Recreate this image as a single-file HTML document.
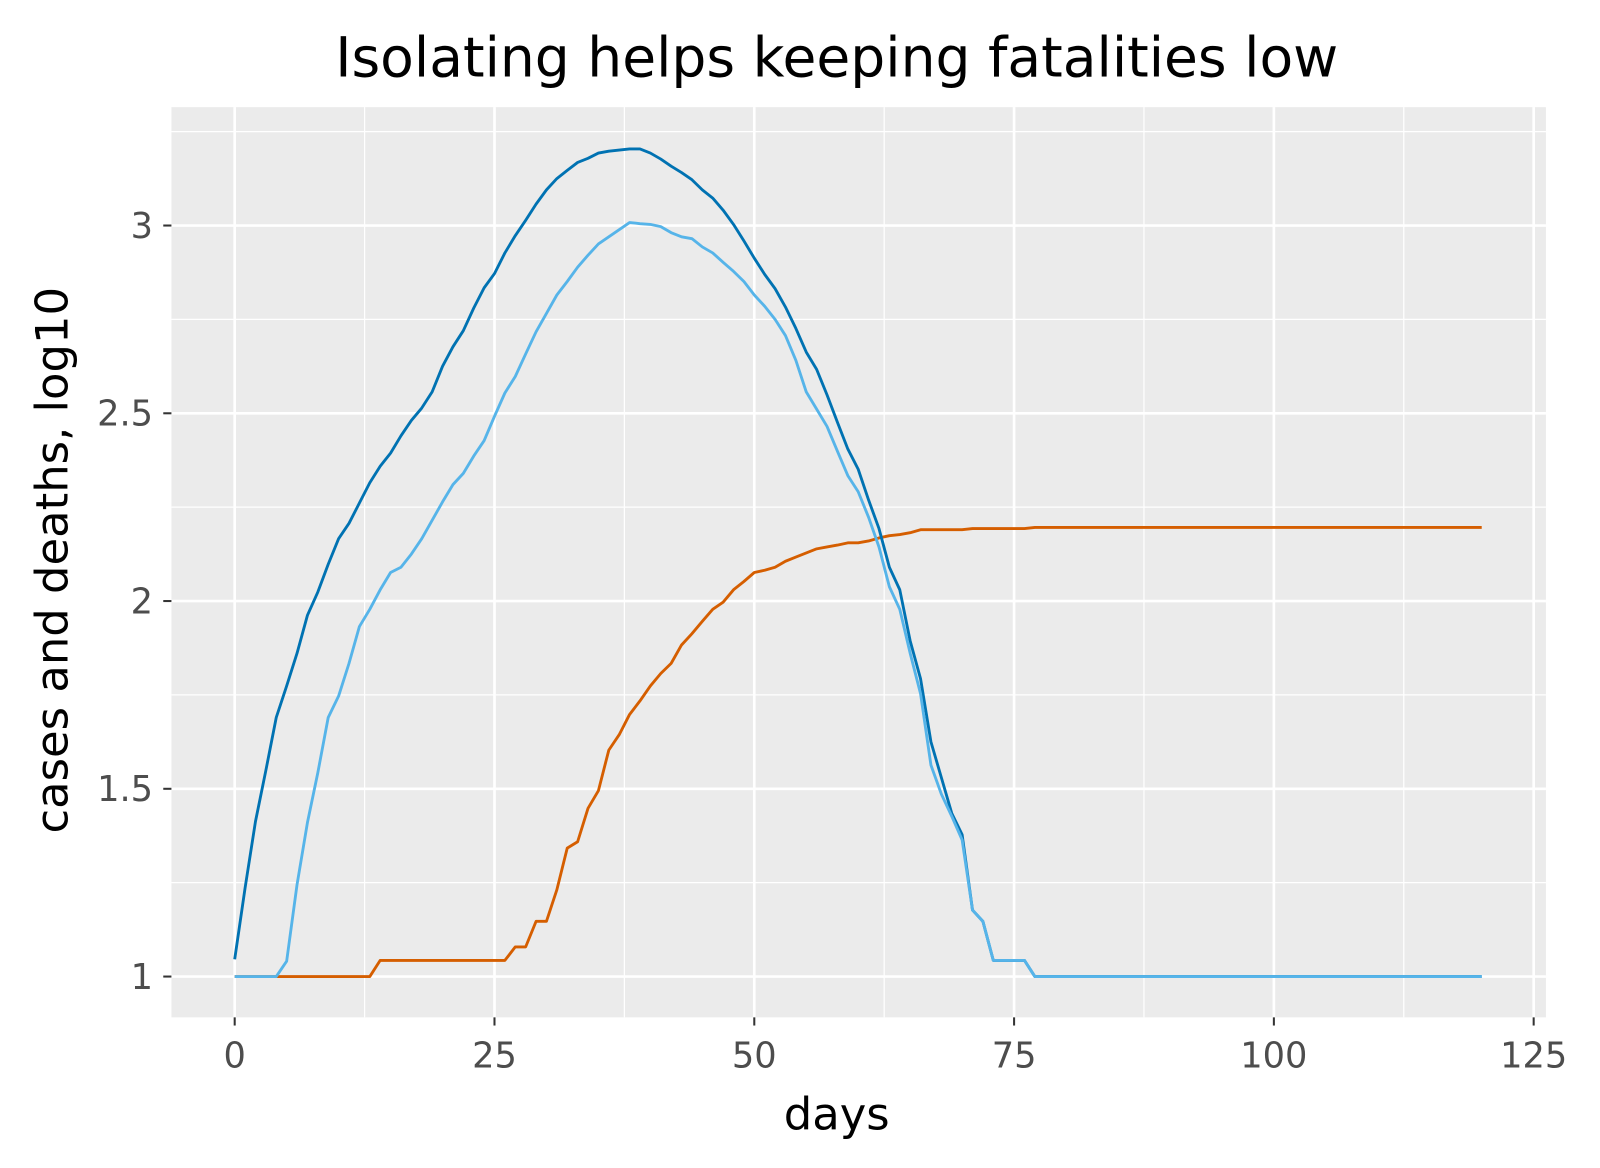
<!DOCTYPE html>
<html><head><meta charset="utf-8"><style>
html,body{margin:0;padding:0;background:#fff}
svg{display:block;font-family:"DejaVu Sans","Liberation Sans",sans-serif}
</style></head><body>
<svg id="chart" width="1600" height="1168" viewBox="0 0 1568 1144.6" xmlns="http://www.w3.org/2000/svg">
<rect width="1568" height="1145" fill="#fff"/>
<text x="820" y="75" font-size="54" text-anchor="middle" fill="#000">Isolating helps keeping fatalities low</text>
<rect x="168" y="105" width="1347" height="892" fill="#ebebeb"/>
<g id="grid"></g>
<g id="series"></g>
<g id="axes"></g>
<text x="820" y="1107" font-size="44" text-anchor="middle" fill="#000">days</text>
<text transform="translate(66,549) rotate(-90)" font-size="44" text-anchor="middle" fill="#000">cases and deaths, log10</text>
</svg>
<script>
const xTicks=[0,25,50,75,100,125];
const xTickLabels=["0","25","50","75","100","125"];
const yTicks=[1,1.5,2,2.5,3];
const yTickLabels=["1","1.5","2","2.5","3"];
const lastDay=120;
const casesTotal=[1.046,1.236,1.413,1.549,1.690,1.774,1.861,1.962,2.024,2.098,2.166,2.207,2.261,2.315,2.359,2.394,2.440,2.481,2.514,2.557,2.625,2.677,2.720,2.780,2.834,2.872,2.927,2.973,3.014,3.057,3.095,3.125,3.147,3.168,3.179,3.193,3.198,3.201,3.204,3.204,3.193,3.177,3.158,3.141,3.122,3.095,3.073,3.041,3.003,2.959,2.913,2.870,2.832,2.783,2.726,2.663,2.617,2.549,2.476,2.405,2.351,2.269,2.193,2.090,2.030,1.894,1.793,1.625,1.530,1.435,1.378,1.177,1.147,1.043,1.043,1.043,1.043,1,1,1,1,1,1,1,1,1,1,1,1,1,1,1,1,1,1,1,1,1,1,1,1,1,1,1,1,1,1,1,1,1,1,1,1,1,1,1,1,1,1,1,1,1,1,1,1];
const casesActive=[1,1,1,1,1,1.041,1.245,1.410,1.543,1.690,1.747,1.834,1.932,1.978,2.030,2.076,2.090,2.125,2.166,2.215,2.264,2.310,2.340,2.386,2.427,2.492,2.554,2.598,2.658,2.717,2.766,2.815,2.851,2.889,2.921,2.951,2.970,2.989,3.008,3.005,3.003,2.997,2.981,2.970,2.965,2.943,2.927,2.902,2.878,2.851,2.815,2.785,2.750,2.707,2.641,2.557,2.511,2.465,2.399,2.334,2.291,2.223,2.144,2.038,1.978,1.861,1.753,1.563,1.486,1.427,1.364,1.177,1.147,1.043,1.043,1.043,1.043,1,1,1,1,1,1,1,1,1,1,1,1,1,1,1,1,1,1,1,1,1,1,1,1,1,1,1,1,1,1,1,1,1,1,1,1,1,1,1,1,1,1,1,1,1,1,1,1];
const deaths=[1,1,1,1,1,1,1,1,1,1,1,1,1,1,1.043,1.043,1.043,1.043,1.043,1.043,1.043,1.043,1.043,1.043,1.043,1.043,1.043,1.079,1.079,1.147,1.147,1.231,1.342,1.359,1.448,1.495,1.603,1.644,1.698,1.734,1.774,1.807,1.834,1.883,1.913,1.946,1.978,1.997,2.030,2.052,2.076,2.082,2.090,2.106,2.117,2.128,2.139,2.144,2.149,2.155,2.155,2.160,2.168,2.174,2.177,2.182,2.190,2.190,2.190,2.190,2.190,2.193,2.193,2.193,2.193,2.193,2.193,2.196,2.196,2.196,2.196,2.196,2.196,2.196,2.196,2.196,2.196,2.196,2.196,2.196,2.196,2.196,2.196,2.196,2.196,2.196,2.196,2.196,2.196,2.196,2.196,2.196,2.196,2.196,2.196,2.196,2.196,2.196,2.196,2.196,2.196,2.196,2.196,2.196,2.196,2.196,2.196,2.196,2.196,2.196,2.196,2.196,2.196];
const X=d=>230+d*(1503-230)/125;
const Y=v=>957-(v-1)*368;
const NS="http://www.w3.org/2000/svg";
function mk(tag,attrs,parent){const e=document.createElementNS(NS,tag);for(const k in attrs)e.setAttribute(k,attrs[k]);parent.appendChild(e);return e;}
const grid=document.getElementById('grid'),axes=document.getElementById('axes'),ser=document.getElementById('series');
[12.5,37.5,62.5,87.5,112.5].forEach(d=>{const l=mk('line',{x1:X(d),x2:X(d),y1:105,y2:997,stroke:'#fff','stroke-width':1.2},grid);

});
[1.25,1.75,2.25,2.75,3.25].forEach(v=>{const l=mk('line',{x1:168,x2:1515,y1:Y(v),y2:Y(v),stroke:'#fff','stroke-width':1.2},grid);

});
xTicks.forEach((d,i)=>{const l=mk('line',{x1:X(d),x2:X(d),y1:105,y2:997,stroke:'#fff','stroke-width':2.6},grid);


const t=mk('line',{x1:X(d),x2:X(d),y1:997,y2:1005,stroke:'#333','stroke-width':2},axes);


const tx=mk('text',{x:X(d),y:1046,'font-size':34.5,'text-anchor':'middle',fill:'#4d4d4d'},axes);tx.textContent=xTickLabels[i];

});
yTicks.forEach((v,i)=>{const l=mk('line',{x1:168,x2:1515,y1:Y(v),y2:Y(v),stroke:'#fff','stroke-width':2.6},grid);


const t=mk('line',{x1:160,x2:168,y1:Y(v),y2:Y(v),stroke:'#333','stroke-width':2},axes);


const tx=mk('text',{x:150,y:Y(v)+12,'font-size':34.5,'text-anchor':'end',fill:'#4d4d4d'},axes);tx.textContent=yTickLabels[i];

});
function line(arr,color,name){const p=mk('polyline',{points:arr.slice(0,lastDay+1).map((v,i)=>X(i)+','+Y(v)).join(' '),fill:'none',stroke:color,'stroke-width':2.8,'stroke-linejoin':'round'},ser);

}
line(deaths,'#d55e00','deaths-line');
line(casesTotal,'#0072b2','cases-total-line');
line(casesActive,'#56b4e9','cases-active-line');
</script>
</body></html>
